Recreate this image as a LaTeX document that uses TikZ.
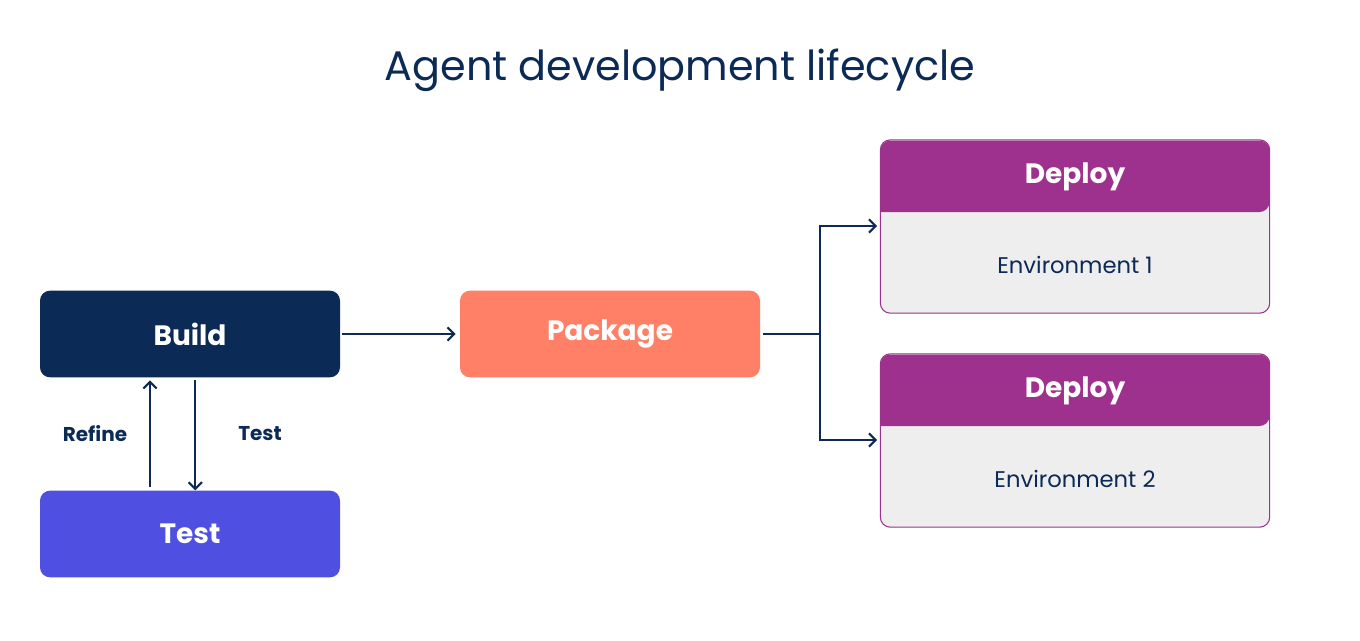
\documentclass[tikz,border=0pt]{standalone}
\usepackage{fontspec}
\setmainfont{Poppins}
\usetikzlibrary{positioning, arrows.meta}
\definecolor{navy}{HTML}{0B2A55}
\definecolor{coral}{HTML}{FF7F67}
\definecolor{violet}{HTML}{4F4FE2}
\definecolor{plum}{HTML}{9E308E}
\definecolor{pale}{HTML}{EEEEEE}
\tikzset{
  arrow/.style = {draw=navy, line width=1.6pt, -{Straight Barb[length=5pt, width=10pt]}},
  block/.style = {rectangle, rounded corners=7.5pt, minimum width=225pt, minimum height=65pt, text=white, font=\fontsize{21}{24}\selectfont\bfseries},
  envbox/.style = {rectangle, draw=plum, line width=0.8pt, fill=pale, rounded corners=7.5pt, minimum width=292pt, minimum height=130pt},
  envtext/.style = {text=navy, font=\fontsize{17}{20}\selectfont},
  deploy/.style = {text=white, font=\fontsize{21}{24}\selectfont\bfseries},
  side/.style = {text=navy, font=\fontsize{15}{18}\selectfont\bfseries}
}
\begin{document}
\begin{tikzpicture}[x=0.75pt, y=-0.75pt]
    \useasboundingbox (0,0) rectangle (1360,640);
    % Title
    \node (title) [text=navy, font=\fontsize{31}{36}\selectfont] at (680,70) {Agent development lifecycle};
    % Nodes
    \node (build) [block, fill=navy] at (190,334) {Build};
    \node (test) [block, fill=violet] at (190,534) {Test};
    \node (package) [block, fill=coral] at (610,334) {Package};
    \foreach \i/\y in {1/140, 2/354} {
        \node (box\i) [envbox] at (1075,\y+86.5) {};
        \fill[plum, rounded corners=7.5pt] (880.5,\y+72) -- (880.5,\y+0.5) -- (1269.5,\y+0.5) -- (1269.5,\y+72) [sharp corners] -- cycle;
        \node (dep\i) [deploy] at (1075,\y+37) {Deploy};
        \node (env\i) [envtext] at (1075,\y+125) {Environment \i};
    }
    \coordinate (split) at (820,334);
    % Arrows
    \draw [arrow] (build.east) ++(2,0) -- ([xshift=-3pt]package.west);
    \draw [draw=navy, line width=1.6pt] ([xshift=2pt]package.east) -- (split);
    \draw [arrow] (split) |- ([xshift=-2pt]box1.west |- 0,226);
    \draw [arrow] (split) |- ([xshift=-2pt]box2.west |- 0,440);
    \draw [arrow] ([xshift=-30pt]test.north) ++(0,-3) -- ([xshift=-30pt, yshift=-2pt]build.south);
    \draw [arrow] ([xshift=4pt, yshift=-2pt]build.south) -- ([xshift=4pt]test.north);
    \node (refine) [side] at (95,434) {Refine};
    \node (testlbl) [side] at (260,434) {Test};
\end{tikzpicture}
\end{document}
